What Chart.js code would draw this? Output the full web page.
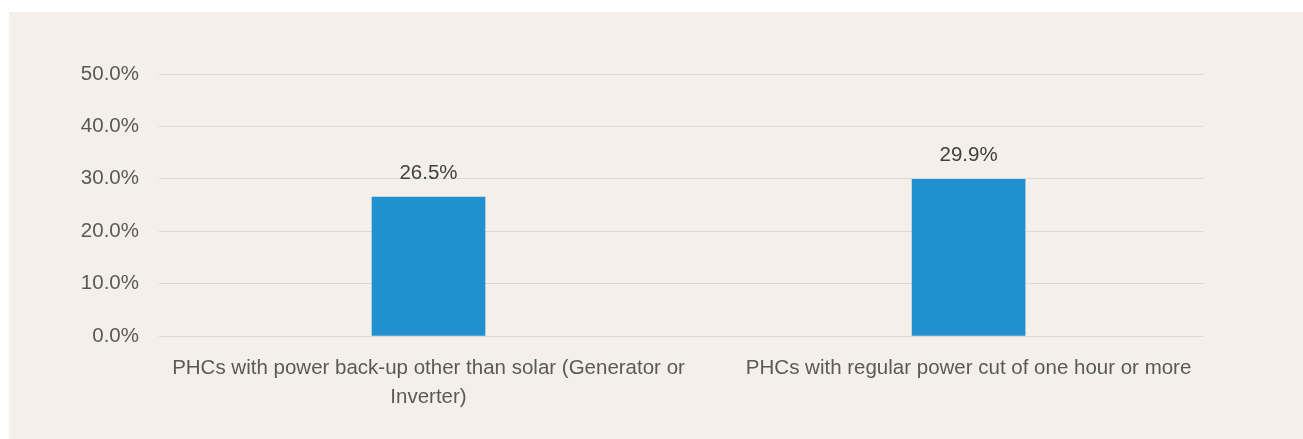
<!DOCTYPE html>
<html>
<head>
<meta charset="utf-8">
<script src="https://cdn.jsdelivr.net/npm/chart.js@4/dist/chart.umd.min.js"></script>
<style>
	html, body { margin: 0; padding: 0; background: #ffffff; }
	#wrap {
		position: absolute;
		left: 9px;
		top: 12px;
		width: 1294px;
		height: 427px;
		background: #f4f0e9;
	}
</style>
</head>
<body>
<div id="wrap"><canvas id="chart" width="1294" height="427"></canvas></div>
<script>
// chart data
const categories = [
	["PHCs with power back-up other than solar (Generator or", "Inverter)"],
	"PHCs with regular power cut of one hour or more"
];
const values = [26.5, 29.9];
const yTickValues = [0, 10, 20, 30, 40, 50];

const TEXT = "#595959";
const FONT = "'Liberation Sans', Arial, sans-serif";

// draws the value above each bar
const valueLabels = {
	id: "valueLabels",
	afterDatasetsDraw(chart) {
		const ctx = chart.ctx;
		const meta = chart.getDatasetMeta(0);
		ctx.save();
		ctx.fillStyle = "#404040";
		ctx.font = "20.5px " + FONT;
		ctx.textAlign = "center";
		ctx.textBaseline = "middle";
		meta.data.forEach((bar, i) => {
			ctx.fillText(values[i].toFixed(1) + "%", bar.x, bar.y - 24);
		});
		ctx.restore();
	}
};

const ctx = document.getElementById("chart").getContext("2d");
new Chart(ctx, {
	type: "bar",
	data: {
		datasets: [{
			data: values.map((v, i) => ({ x: i, y: v })),
			backgroundColor: "#2190d0",
			barThickness: 113
		}]
	},
	options: {
		responsive: false,
		animation: false,
		layout: { padding: { left: 0, right: 100, top: 62, bottom: 0 } },
		plugins: {
			legend: { display: false },
			tooltip: { enabled: false }
		},
		scales: {
			x: {
				type: "linear",
				offset: false,
				min: -0.499,
				max: 1.434,
				grid: { display: false },
				border: { display: false },
				afterBuildTicks: (scale) => {
					scale.ticks = categories.map((c, i) => ({ value: i }));
				},
				afterFit: (scale) => { scale.height = 103; },
				ticks: {
					autoSkip: false,
					maxRotation: 0,
					padding: 10,
					color: TEXT,
					font: { family: FONT, size: 20.5, lineHeight: 1.4 },
					callback: (v) => categories[v]
				}
			},
			y: {
				min: 0,
				max: 50,
				afterBuildTicks: (scale) => {
					scale.ticks = yTickValues.map((v) => ({ value: v }));
				},
				afterFit: (scale) => { scale.width = 150; },
				grid: { color: "#d9d9d9", lineWidth: 1, drawTicks: false },
				border: { display: false },
				ticks: {
					padding: 20,
					color: TEXT,
					font: { family: FONT, size: 20.5 },
					callback: (v) => v.toFixed(1) + "%"
				}
			}
		}
	},
	plugins: [valueLabels]
});
</script>
</body>
</html>
